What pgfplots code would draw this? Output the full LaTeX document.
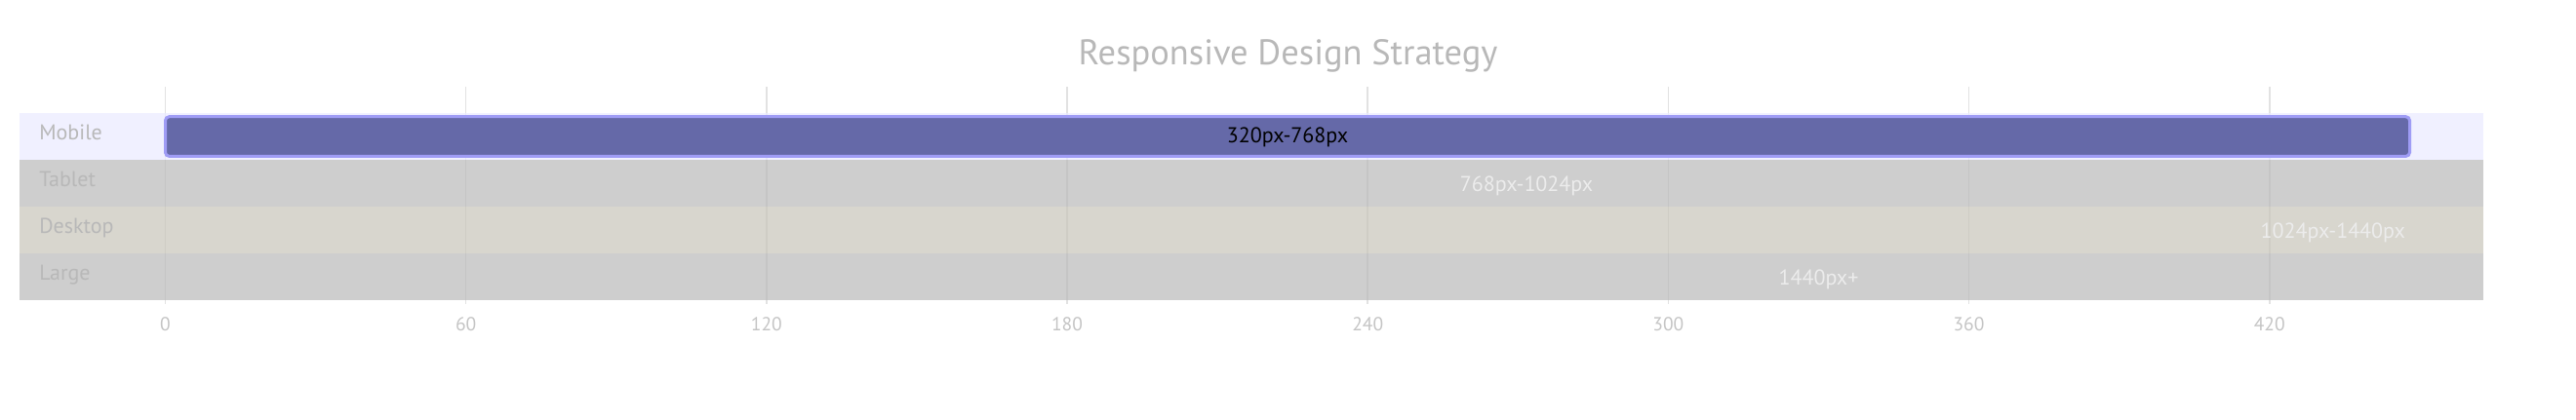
\documentclass[border=0pt]{standalone}
\usepackage{fontspec}
\setmainfont{PT Sans}
\usepackage{pgfplots}
\pgfplotsset{compat=1.18}
\definecolor{gridc}{RGB}{226,226,226}
\definecolor{secmob}{RGB}{234,234,255}
\definecolor{secgray}{RGB}{187,187,187}
\definecolor{secdesk}{RGB}{201,198,187}
\definecolor{barfill}{RGB}{101,105,168}
\definecolor{barborder}{RGB}{159,156,245}
\definecolor{titlec}{RGB}{184,184,184}
\definecolor{tickc}{RGB}{196,196,196}
\definecolor{seclab}{RGB}{184,184,184}
\definecolor{outc}{RGB}{236,236,236}
\begin{document}
\begin{tikzpicture}
\begin{axis}[
  name=ax, set layers, scale only axis,
  width=2526bp, height=223bp,
  xmin=-29.11, xmax=462.7, ymin=0, ymax=223,
  xtick={0,60,120,180,240,300,360,420}, ytick=\empty,
  xmajorgrids, grid style={draw=gridc, line width=1.6bp},
  major tick length=0pt,
  axis line style={draw=none},
  /pgf/number format/assume math mode=true,
  xticklabel style={font=\fontsize{19.5bp}{22bp}\selectfont, text=tickc, inner sep=0pt, anchor=north, yshift=-13.5bp},
  clip=false,
]
% section rows
\addplot[on layer=pre main, fill=secmob, fill opacity=0.724, draw=none] coordinates {(-29.11,148) (462.7,148) (462.7,196) (-29.11,196)} -- cycle;
\addplot[on layer=pre main, fill=secgray, fill opacity=0.724, draw=none] coordinates {(-29.11,100) (462.7,100) (462.7,148) (-29.11,148)} -- cycle;
\addplot[on layer=pre main, fill=secdesk, fill opacity=0.724, draw=none] coordinates {(-29.11,52) (462.7,52) (462.7,100) (-29.11,100)} -- cycle;
\addplot[on layer=pre main, fill=secgray, fill opacity=0.724, draw=none] coordinates {(-29.11,4) (462.7,4) (462.7,52) (-29.11,52)} -- cycle;
% tasks
\addplot[fill=barfill, draw=barborder, line width=3bp, rounded corners=4bp] coordinates {(0,151.6) (448,151.6) (448,192.3) (0,192.3)} -- cycle;
\addplot[draw=none, fill=none] coordinates {(0,103.6) (256,103.6) (256,144.3) (0,144.3)} -- cycle;
\addplot[draw=none, fill=none] coordinates {(0,55.6) (416,55.6) (416,96.3) (0,96.3)} -- cycle;
\addplot[draw=none, fill=none] coordinates {(0,7.6) (320,7.6) (320,48.3) (0,48.3)} -- cycle;
% task texts
\node[anchor=base, inner sep=0pt, text=black, font=\fontsize{22bp}{26bp}\selectfont] at (axis cs:224,165.3) {320px-768px};
\node[anchor=base west, inner sep=0pt, text=outc, font=\fontsize{22bp}{26bp}\selectfont] at (axis cs:258.4,115.3) {768px-1024px};
\node[anchor=base west, inner sep=0pt, text=outc, font=\fontsize{22bp}{26bp}\selectfont] at (axis cs:418.2,67.3) {1024px-1440px};
\node[anchor=base west, inner sep=0pt, text=outc, font=\fontsize{22bp}{26bp}\selectfont] at (axis cs:322,19.3) {1440px+};
% section labels
\node[anchor=base west, inner sep=0pt, text=seclab, font=\fontsize{22bp}{26bp}\selectfont] at (axis cs:-25.2,168.7) {Mobile};
\node[anchor=base west, inner sep=0pt, text=seclab, font=\fontsize{22bp}{26bp}\selectfont] at (axis cs:-25.2,120.7) {Tablet};
\node[anchor=base west, inner sep=0pt, text=seclab, font=\fontsize{22bp}{26bp}\selectfont] at (axis cs:-25.2,72.7) {Desktop};
\node[anchor=base west, inner sep=0pt, text=seclab, font=\fontsize{22bp}{26bp}\selectfont] at (axis cs:-25.2,24.7) {Large};
% title
\node[anchor=base, inner sep=0pt, text=titlec, font=\fontsize{36.5bp}{42bp}\selectfont] at (axis cs:224.1,245.3) {Responsive Design Strategy};
\end{axis}
\useasboundingbox ([shift={(-20bp,-119bp)}]ax.south west) rectangle ([shift={(95bp,89bp)}]ax.north east);
\end{tikzpicture}
\end{document}
